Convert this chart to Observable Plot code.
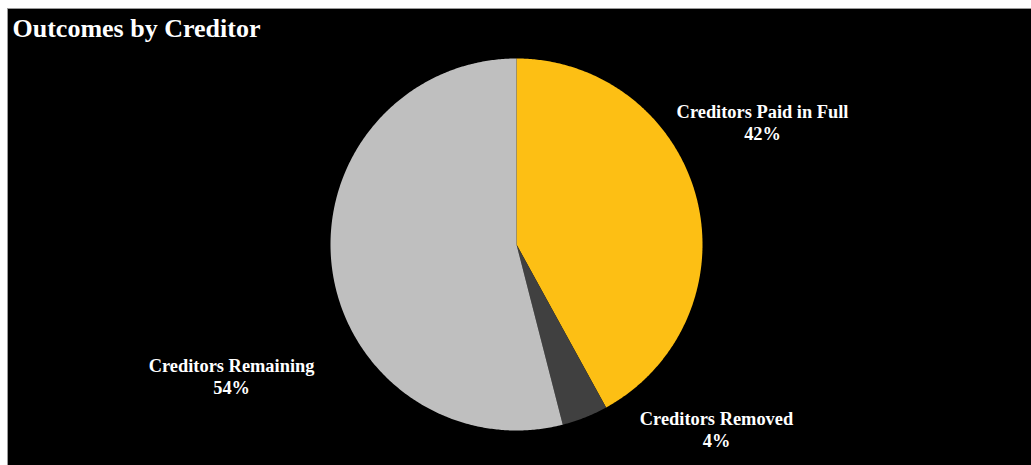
<!DOCTYPE html>
<html>
<head>
<meta charset="utf-8">
<script src="https://cdn.jsdelivr.net/npm/d3@7"></script>
<script src="https://cdn.jsdelivr.net/npm/@observablehq/plot@0.6"></script>
<style>
  html, body { margin: 0; padding: 0; background: #ffffff; }
  #box {
    position: absolute; left: 7px; top: 8px;
    border-left: 1px solid #9a9a9a; border-top: 1px solid #9a9a9a;
    background: #000000; width: 1023px; height: 456px; overflow: hidden;
  }
</style>
</head>
<body>
<div id="box"></div>
<script>
// Share of creditors by outcome
const categories = ["Creditors Paid in Full", "Creditors Removed", "Creditors Remaining"];
const shares = [42, 4, 54];
const colors = ["#FDBF14", "#404040", "#BFBFBF"];

// Label placement: angle (degrees clockwise from 12 o'clock) and distance in pie radii
const labelAngle = [63.5, 132.7, 245.3];
const labelRadius = [1.478, 1.463, 1.686];

const pie = d3.pie().sort(null).value(d => d.share);
const arcs = pie(categories.map((name, i) => ({name, share: shares[i]})));

// Outline of each slice in unit coordinates (centre at 0,0, radius 1)
const outline = [];
for (const a of arcs) {
  outline.push({name: a.data.name, x: 0, y: 0});
  const steps = Math.max(2, Math.ceil((a.endAngle - a.startAngle) / (Math.PI / 360)));
  for (let k = 0; k <= steps; k++) {
    const t = a.startAngle + (a.endAngle - a.startAngle) * k / steps;
    outline.push({name: a.data.name, x: Math.sin(t), y: Math.cos(t)});
  }
  outline.push({name: a.data.name, x: 0, y: 0});
}

const labels = arcs.map((a, i) => {
  const t = labelAngle[i] * Math.PI / 180;
  return {
    text: `${a.data.name}\n${a.data.share}%`,
    x: labelRadius[i] * Math.sin(t),
    y: labelRadius[i] * Math.cos(t)
  };
});

const chart = Plot.plot({
  width: 1023,
  height: 456,
  margin: 0,
  style: {background: "#000000", fontFamily: "'Liberation Serif', 'Times New Roman', serif"},
  x: {type: "linear", domain: [-1, 1], range: [322, 694], axis: null},
  y: {type: "linear", domain: [-1, 1], range: [421, 49], axis: null},
  color: {domain: categories, range: colors},
  marks: [
    Plot.line(outline, {x: "x", y: "y", z: "name", fill: "name", stroke: null}),
    Plot.text(labels, {
      x: "x", y: "y", text: "text",
      fill: "#ffffff", fontSize: 18.4, fontWeight: "bold", lineHeight: 1.2,
      textAnchor: "middle"
    }),
    Plot.text(["Outcomes by Creditor"], {
      frameAnchor: "top-left", textAnchor: "start", lineAnchor: "top",
      dx: 4, dy: 9, fill: "#ffffff", fontSize: 26, fontWeight: "bold"
    })
  ]
});

document.getElementById("box").appendChild(chart);
</script>
</body>
</html>
